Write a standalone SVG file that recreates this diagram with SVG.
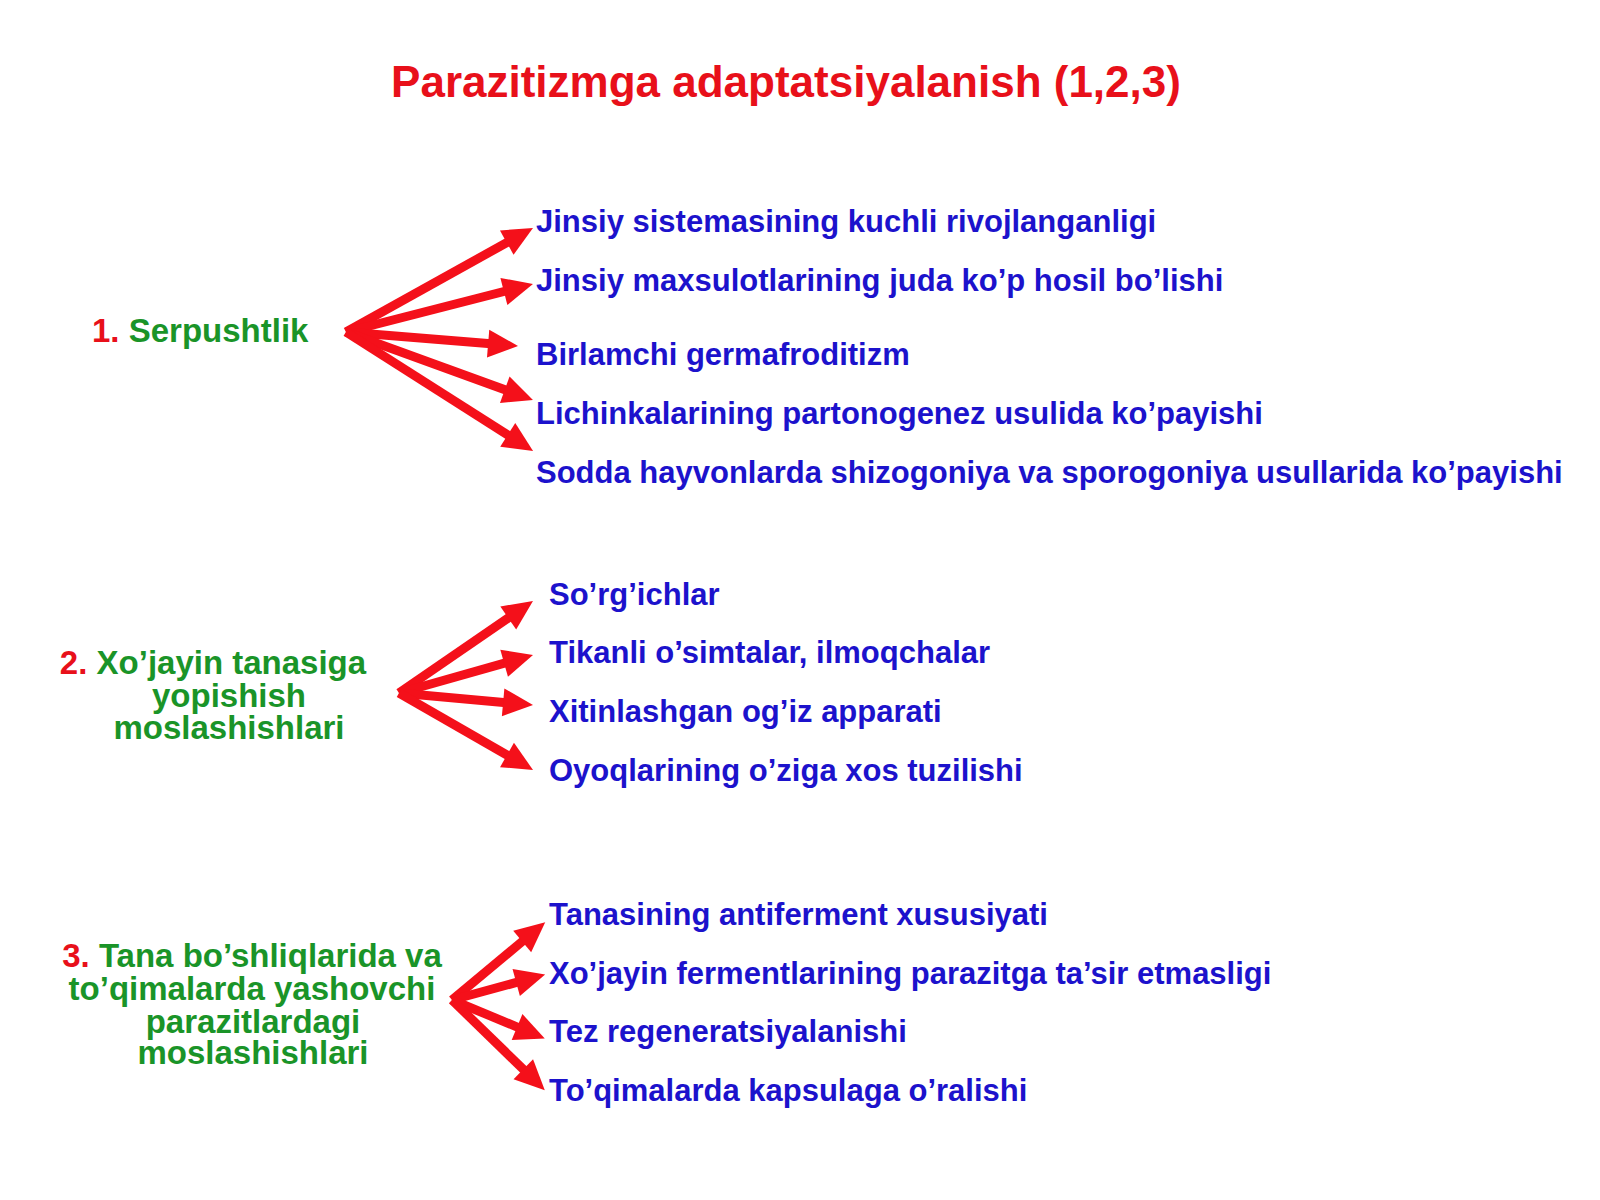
<svg xmlns="http://www.w3.org/2000/svg" width="1600" height="1200" viewBox="0 0 1600 1200">
<defs>
<style>
text{font-family:"Liberation Sans",Arial,sans-serif;font-weight:bold}
.title{font-size:44px;fill:#e8101a}
.item{font-size:31px;fill:#1c12cc}
.lab{font-size:33px;fill:#1a9428}
.num{fill:#e8101a}
.arr{stroke:#f4101a;stroke-width:9;fill:none;marker-end:url(#ah)}
</style>
<marker id="ah" markerUnits="userSpaceOnUse" markerWidth="34" markerHeight="32" viewBox="-2 -16 34 32" refX="6" refY="0" orient="auto">
<path d="M0,-14 L30,0 L0,14 Z" fill="#f4101a"/>
</marker>
</defs>
<rect width="1600" height="1200" fill="#ffffff"/>
<text class="title" x="786" y="97" text-anchor="middle">Parazitizmga adaptatsiyalanish (1,2,3)</text>

<g id="node-serpushtlik">
<text class="lab" x="92" y="342"><tspan class="num">1.</tspan> Serpushtlik</text>
</g>
<g id="node-xojayin">
<text class="lab" x="213" y="674" text-anchor="middle"><tspan class="num">2.</tspan> Xo’jayin tanasiga</text>
<text class="lab" x="229" y="707" text-anchor="middle">yopishish</text>
<text class="lab" x="229" y="739" text-anchor="middle">moslashishlari</text>
</g>
<g id="node-tana">
<text class="lab" x="252" y="967" text-anchor="middle"><tspan class="num">3.</tspan> Tana bo’shliqlarida va</text>
<text class="lab" x="252" y="1000" text-anchor="middle">to’qimalarda yashovchi</text>
<text class="lab" x="253" y="1033" text-anchor="middle">parazitlardagi</text>
<text class="lab" x="253" y="1064" text-anchor="middle">moslashishlari</text>
</g>

<g id="items-1">
<text class="item" x="536" y="232">Jinsiy sistemasining kuchli rivojlanganligi</text>
<text class="item" x="536" y="291">Jinsiy maxsulotlarining juda ko’p hosil bo’lishi</text>
<text class="item" x="536" y="365">Birlamchi germafroditizm</text>
<text class="item" x="536" y="424">Lichinkalarining partonogenez usulida ko’payishi</text>
<text class="item" x="536" y="483">Sodda hayvonlarda shizogoniya va sporogoniya usullarida ko’payishi</text>
</g>
<g id="items-2">
<text class="item" x="549" y="605">So’rg’ichlar</text>
<text class="item" x="549" y="663">Tikanli o’simtalar, ilmoqchalar</text>
<text class="item" x="549" y="722">Xitinlashgan og’iz apparati</text>
<text class="item" x="549" y="781">Oyoqlarining o’ziga xos tuzilishi</text>
</g>
<g id="items-3">
<text class="item" x="549" y="925">Tanasining antiferment xususiyati</text>
<text class="item" x="549" y="984">Xo’jayin fermentlarining parazitga ta’sir etmasligi</text>
<text class="item" x="549" y="1042">Tez regeneratsiyalanishi</text>
<text class="item" x="549" y="1101">To’qimalarda kapsulaga o’ralishi</text>
</g>

<g id="connectors">
<line class="arr" x1="346" y1="332" x2="512.0" y2="239.7"/>
<line class="arr" x1="346" y1="332" x2="509.7" y2="290.0"/>
<line class="arr" x1="346" y1="332" x2="494.1" y2="344.1"/>
<line class="arr" x1="346" y1="332" x2="510.4" y2="391.8"/>
<line class="arr" x1="346" y1="332" x2="512.8" y2="438.1"/>
<line class="arr" x1="399" y1="693" x2="513.2" y2="614.6"/>
<line class="arr" x1="399" y1="693" x2="509.9" y2="661.6"/>
<line class="arr" x1="399" y1="693" x2="509.1" y2="702.9"/>
<line class="arr" x1="399" y1="693" x2="512.2" y2="758.0"/>
<line class="arr" x1="452" y1="1000" x2="526.8" y2="937.6"/>
<line class="arr" x1="452" y1="1000" x2="522.0" y2="980.9"/>
<line class="arr" x1="452" y1="1000" x2="522.6" y2="1029.3"/>
<line class="arr" x1="452" y1="1000" x2="527.6" y2="1073.5"/>
</g>
</svg>
